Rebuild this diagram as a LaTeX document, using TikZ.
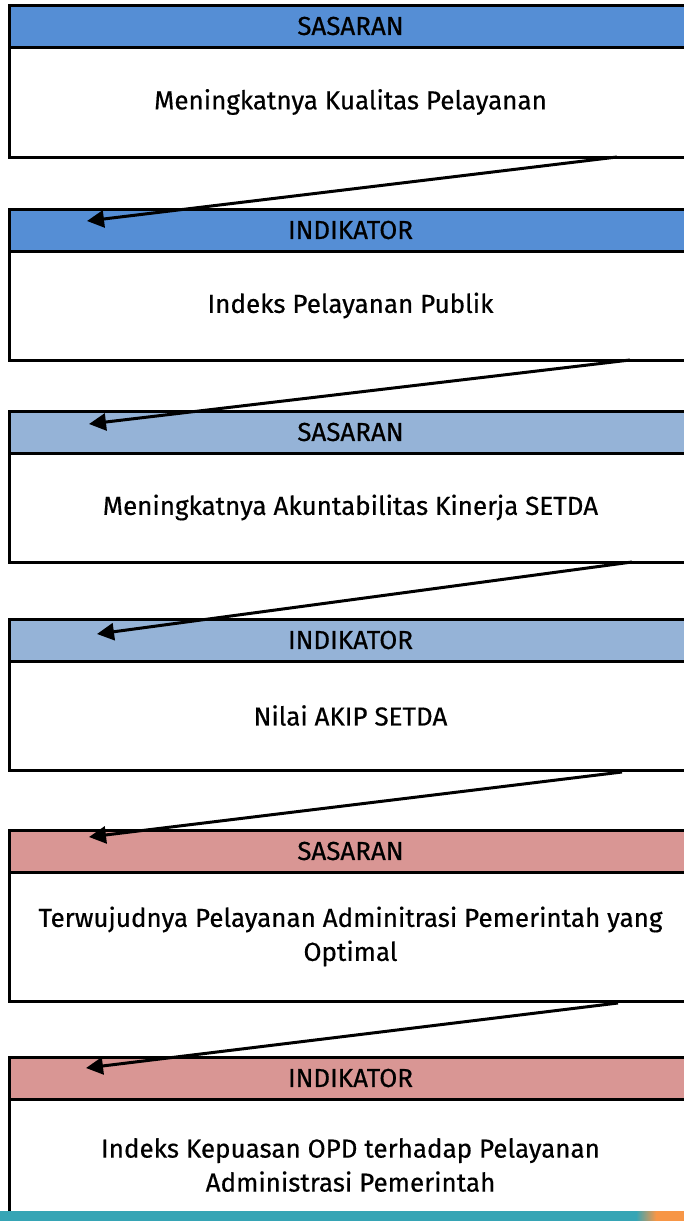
\documentclass[tikz,border=0pt]{standalone}
\usepackage{fontspec}
\setmainfont{Fira Sans}[FakeBold=0.5]
\usetikzlibrary{positioning,calc,arrows.meta}
\definecolor{hdblue}{HTML}{558ED5}
\definecolor{hdlight}{HTML}{95B3D7}
\definecolor{hdpink}{HTML}{D99694}
\definecolor{stripteal}{HTML}{36A5B5}
\definecolor{striporange}{HTML}{F79646}
\tikzset{
  head/.style = {draw, line width=3pt, rectangle, anchor=north west, minimum width=683pt, minimum height=42pt, inner sep=0pt, outer sep=0pt, font=\fontsize{26}{30}\selectfont},
  body/.style = {draw, line width=3pt, rectangle, minimum width=683pt, minimum height=109pt, inner sep=0pt, outer sep=0pt, align=center, font=\fontsize{26}{34}\selectfont},
  arr/.style = {draw, line width=3pt, -{Triangle[length=17pt,width=17pt]}}
}
\begin{document}
\begin{tikzpicture}[x=1pt, y=-1pt]
    \path[use as bounding box] (0,0) rectangle (684,1221);
    \clip (0,0) rectangle (684,1221);

    \node [head, fill=hdblue] (h1) at (9,5) {SASARAN};
    \node [body, below=0pt of h1, minimum height=110pt] (b1) {Meningkatnya Kualitas Pelayanan};

    \node [head, fill=hdblue] (h2) at (9,209) {INDIKATOR};
    \node [body, below=0pt of h2] (b2) {Indeks Pelayanan Publik};

    \node [head, fill=hdlight] (h3) at (9,411) {SASARAN};
    \node [body, below=0pt of h3] (b3) {Meningkatnya Akuntabilitas Kinerja SETDA};

    \node [head, fill=hdlight] (h4) at (9,619) {INDIKATOR};
    \node [body, below=0pt of h4] (b4) {Nilai AKIP SETDA};

    \node [head, fill=hdpink] (h5) at (9,830) {SASARAN};
    \node [body, below=0pt of h5, minimum height=129pt] (b5) {Terwujudnya Pelayanan Adminitrasi Pemerintah yang\\Optimal};

    \node [head, fill=hdpink] (h6) at (9,1057) {INDIKATOR};
    \node [body, below=0pt of h6, minimum height=132pt] (b6) {Indeks Kepuasan OPD terhadap Pelayanan\\Administrasi Pemerintah};

    \draw [arr] ($(b1.south west)+(608,0)$) -- ($(h2.north west)+(78,12)$);
    \draw [arr] ($(b2.south west)+(621,0)$) -- ($(h3.north west)+(80,13)$);
    \draw [arr] ($(b3.south west)+(623,0)$) -- ($(h4.north west)+(88,15)$);
    \draw [arr] ($(b4.south west)+(613,2)$) -- ($(h5.north west)+(80,7)$);
    \draw [arr] ($(b5.south west)+(609,2)$) -- ($(h6.north west)+(77,11)$);

    % strip at the foot of the page
    \fill [stripteal] (0,1211) rectangle (684,1221);
    \shade [left color=stripteal, right color=striporange] (636,1211) rectangle (656,1221);
    \fill [striporange] (656,1211) rectangle (684,1221);
\end{tikzpicture}
\end{document}
